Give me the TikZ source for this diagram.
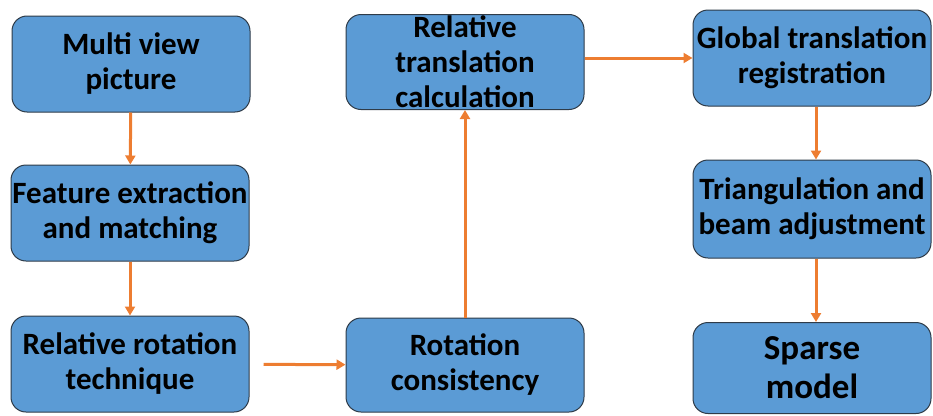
\documentclass[tikz,border=0pt]{standalone}
\usepackage{fontspec}
\setmainfont{Carlito}
\usetikzlibrary{arrows.meta}
\definecolor{boxblue}{HTML}{5B9BD5}
\definecolor{boxline}{HTML}{2E3B48}
\definecolor{flow}{HTML}{ED7D31}

\begin{document}
\begin{tikzpicture}[x=1pt, y=-1pt, >={Triangle[length=9pt,width=10pt]},
	stage/.style={draw=boxline, line width=1pt, fill=boxblue, rounded corners=15pt, minimum width=238pt, minimum height=96pt, inner xsep=0pt, align=center, font=\bfseries\fontsize{31}{35}\selectfont},
	flowline/.style={->, draw=flow, line width=3pt}]
	\useasboundingbox (0,0) rectangle (933,415);
	\node[stage] (multi) at (131,64) {Multi view\\picture};
	\node[stage] (feat) at (130,213) {Feature extraction\\and matching};
	\node[stage] (relrot) at (130,364) {Relative rotation\\technique};
	\node[stage, minimum height=94pt] (rotcons) at (465,365) {Rotation\\consistency};
	\node[stage, minimum height=95pt] (reltrans) at (465,62) {};
	\node[font=\bfseries\fontsize{31}{35}\selectfont, align=center] at (reltrans) {Relative\\translation\\calculation};
	\node[stage] (global) at (812,58) {Global translation\\registration};
	\node[stage, minimum height=98pt] (tri) at (812,209) {Triangulation and\\beam adjustment};
	\node[stage, minimum height=91pt, font=\bfseries\fontsize{35}{39}\selectfont] (sparse) at (812,368) {Sparse\\model};
	% connectors
	\draw[flowline] (multi) -- (feat);
	\draw[flowline] (feat) -- (relrot);
	\draw[flowline, shorten <=14pt] (relrot) -- (rotcons);
	\draw[flowline] (rotcons) -- (reltrans);
	\draw[flowline] (reltrans.east |- global) -- (global);
	\draw[flowline] ([xshift=4pt]global.south) -- ([xshift=4pt]tri.north);
	\draw[flowline] ([xshift=4pt]tri.south) -- ([xshift=4pt]sparse.north);
\end{tikzpicture}
\end{document}
